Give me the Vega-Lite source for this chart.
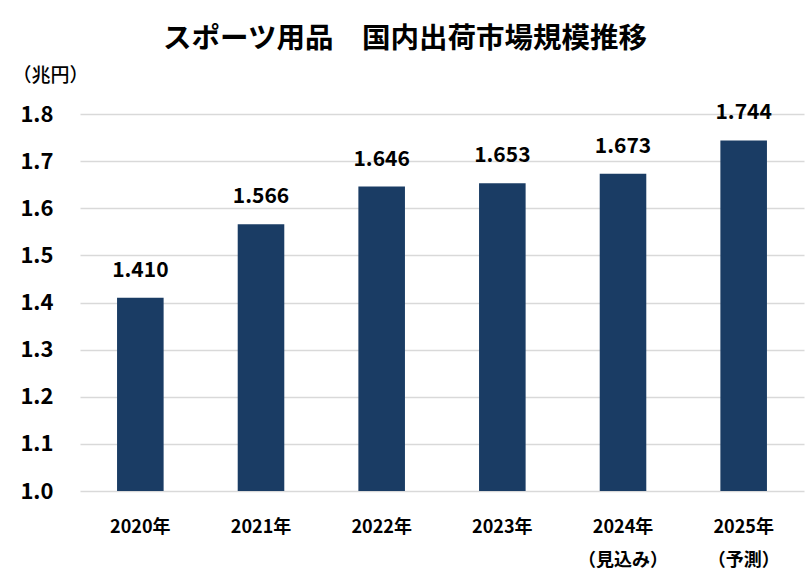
{
  "$schema": "https://vega.github.io/schema/vega-lite/v6.json",
  "description": "スポーツ用品 国内出荷市場規模推移",
  "width": 724,
  "height": 377,
  "autosize": {"type": "none"},
  "padding": {"left": 80, "top": 114, "right": 6, "bottom": 95},
  "background": "white",
  "title": {
    "text": "スポーツ用品　国内出荷市場規模推移",
    "anchor": "middle",
    "dx": -37,
    "fontSize": 28.5,
    "fontWeight": "bold",
    "font": "Noto Sans CJK JP",
    "color": "#000000",
    "offset": 13
  },
  "data": {
    "values": [
      {"year": "2020年", "value": 1.410},
      {"year": "2021年", "value": 1.566},
      {"year": "2022年", "value": 1.646},
      {"year": "2023年", "value": 1.653},
      {"year": "2024年", "value": 1.673},
      {"year": "2025年", "value": 1.744}
    ]
  },
  "encoding": {
    "x": {
      "field": "year",
      "type": "nominal",
      "sort": null,
      "scale": {"paddingInner": 0.614, "paddingOuter": 0.307},
      "axis": {
        "title": null,
        "labelAngle": 0,
        "labelPadding": 27,
        "labelBaseline": "top",
        "labelLineHeight": 33,
        "labelFontSize": 18,
        "labelFontWeight": "bold",
        "labelExpr": "datum.label == '2024年' ? ['2024年', '（見込み）'] : datum.label == '2025年' ? ['2025年', '（予測）'] : datum.label"
      }
    },
    "y": {
      "field": "value",
      "type": "quantitative",
      "scale": {"domain": [1.0, 1.8], "zero": false, "nice": false},
      "axis": {
        "title": "（兆円）",
        "titleAngle": 0,
        "titleAlign": "left",
        "titleBaseline": "middle",
        "titleX": -68,
        "titleY": -39,
        "titleFontSize": 19,
        "titleFontWeight": 500,
        "values": [1.0, 1.1, 1.2, 1.3, 1.4, 1.5, 1.6, 1.7, 1.8],
        "format": ".1f",
        "labelFontSize": 22,
        "labelFontWeight": "bold",
        "labelPadding": 27,
        "grid": true
      }
    }
  },
  "layer": [
    {
      "mark": {"type": "bar", "color": "#1a3c64"},
      "encoding": {"y2": {"datum": 1.0}}
    },
    {
      "mark": {
        "type": "text",
        "baseline": "alphabetic",
        "dy": -21,
        "fontSize": 21,
        "fontWeight": "bold",
        "color": "#000000"
      },
      "encoding": {
        "text": {"field": "value", "type": "quantitative", "format": ".3f"}
      }
    }
  ],
  "config": {
    "font": "Noto Sans CJK JP",
    "view": {"stroke": null},
    "axis": {
      "domain": false,
      "ticks": false,
      "gridColor": "#d9d9d9",
      "gridWidth": 1.5,
      "labelColor": "#000000",
      "titleColor": "#000000",
      "labelFont": "Noto Sans CJK JP",
      "titleFont": "Noto Sans CJK JP"
    },
    "axisX": {"grid": false}
  }
}
